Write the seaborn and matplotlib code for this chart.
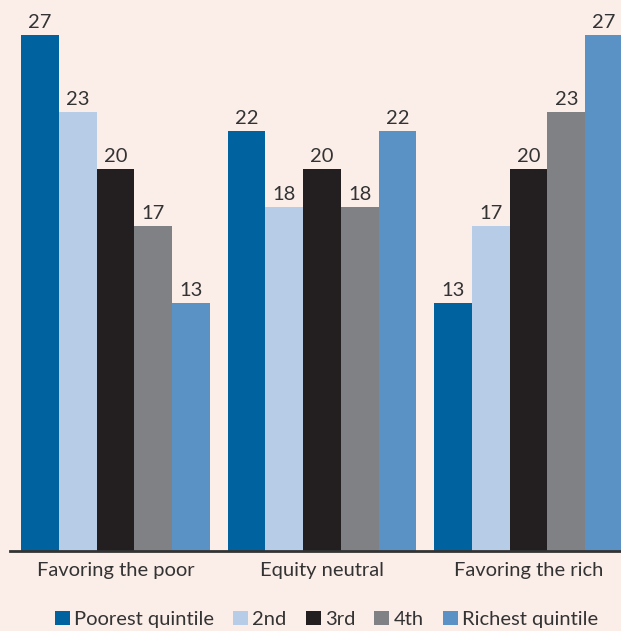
import pandas as pd
import matplotlib.pyplot as plt
import seaborn as sns

# Share of health spending benefit by income quintile
groups = ["Favoring the poor", "Equity neutral", "Favoring the rich"]
quintiles = ["Poorest quintile", "2nd", "3rd", "4th", "Richest quintile"]
poorest = [27, 22, 13]
second = [23, 18, 17]
third = [20, 20, 20]
fourth = [17, 18, 23]
richest = [13, 22, 27]

colors = ["#0063A0", "#B7CCE6", "#231F20", "#808184", "#5A92C5"]
bg = "#FBEDE8"

rows = []
for q, vals in zip(quintiles, [poorest, second, third, fourth, richest]):
    for g, v in zip(groups, vals):
        rows.append({"group": g, "quintile": q, "value": v})
df = pd.DataFrame(rows)

sns.set_style("white")
plt.rcParams["font.family"] = ["Lato", "DejaVu Sans"]

fig = plt.figure(figsize=(6.21, 6.31), dpi=100, facecolor=bg)
ax = fig.add_axes([10 / 621, 80 / 631, 611 / 621, 551 / 631])
ax.set_facecolor(bg)

sns.barplot(data=df, x="group", y="value", hue="quintile", order=groups,
            hue_order=quintiles, palette=colors, width=0.915, gap=0,
            saturation=1, linewidth=0, ax=ax, legend=True)

for c in ax.containers:
    ax.bar_label(c, padding=3, fontsize=14.5, color="#333333")

ax.set_xlim(-0.511, 2.448)
ax.set_ylim(0, 28.85)
ax.set_xlabel("")
ax.set_ylabel("")
ax.set_yticks([])
ax.tick_params(axis="x", length=0, labelsize=14.5, colors="#333333", pad=8)
for s in ["left", "right", "top"]:
    ax.spines[s].set_visible(False)
ax.spines["bottom"].set_color("#333333")
ax.spines["bottom"].set_linewidth(2)

handles, labels = ax.get_legend_handles_labels()
ax.legend(handles, labels, loc="center", bbox_to_anchor=(0.518, -0.124),
          ncol=5, frameon=False, fontsize=14.5, handlelength=0.75,
          handleheight=0.75, handletextpad=0.2, columnspacing=0.95,
          labelcolor="#333333")

fig.savefig("out.png", dpi=100, facecolor=bg)
